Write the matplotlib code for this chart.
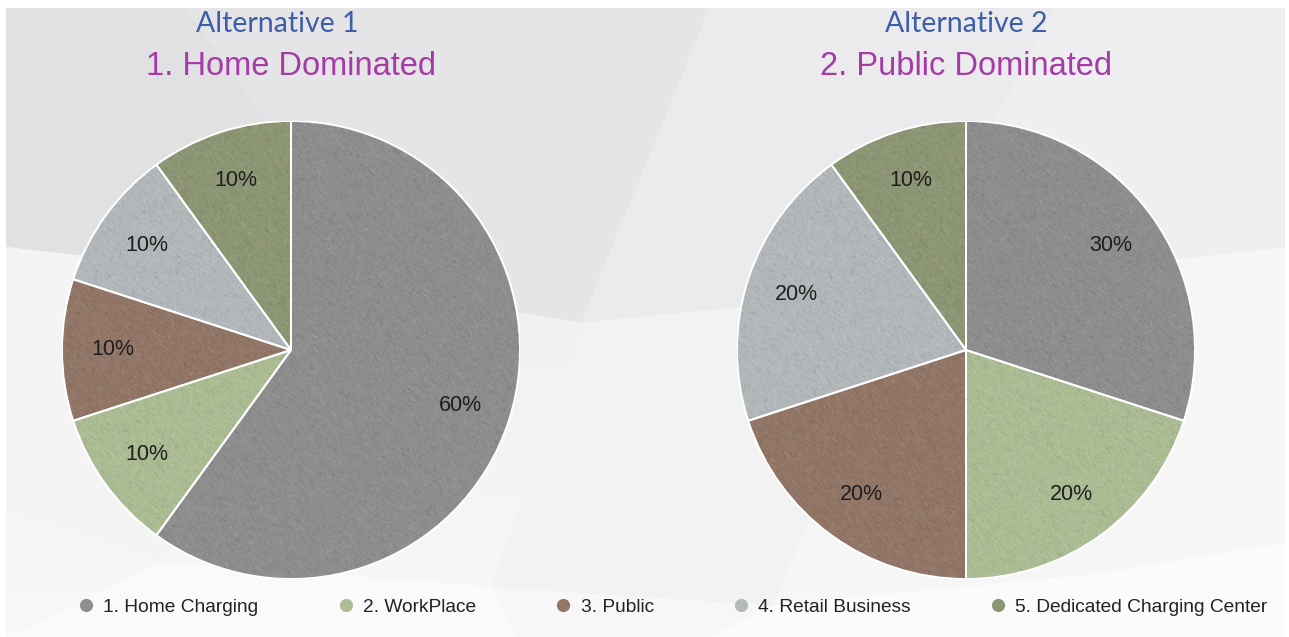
import numpy as np
import matplotlib.pyplot as plt
from matplotlib.colors import LinearSegmentedColormap
from matplotlib.patches import Polygon, Circle, Wedge
from matplotlib.lines import Line2D

categories = ['1. Home Charging', '2. WorkPlace', '3. Public',
              '4. Retail Business', '5. Dedicated Charging Center']
home_dominated = [60, 10, 10, 10, 10]
public_dominated = [30, 20, 20, 20, 10]
alt_titles = ['Alternative 1', 'Alternative 2']
sub_titles = ['1. Home Dominated', '2. Public Dominated']

colors = ['#8e8e8e', '#adbe94', '#927666', '#b4b9bc', '#8d9674']

W, H = 1289, 637
fig = plt.figure(figsize=(W / 100, H / 100), dpi=100)
fig.patch.set_facecolor('white')

# faint low-poly backdrop
bg = fig.add_axes([6 / W, 0, 1 - 10 / W, 1 - 8 / H])
bg.set_xlim(0, 1)
bg.set_ylim(0, 1)
bg.axis('off')
grad = np.linspace(0, 1, 256).reshape(-1, 1)
bg.imshow(grad, extent=(0, 1, 0, 1), aspect='auto', origin='lower',
          cmap=LinearSegmentedColormap.from_list(
              'bgfade', ['#f8f8f8', '#f1f1f2', '#e6e6e9']), zorder=0)
shapes = [
    ([(0, 1), (0.14, 1), (0.30, 0.55), (0, 0.62)], '#e1e1e4'),
    ([(0.14, 1), (0.55, 1), (0.45, 0.50), (0.30, 0.55)], '#e5e5e8'),
    ([(0.55, 1), (0.82, 1), (0.70, 0.55), (0.45, 0.50)], '#ebebee'),
    ([(0.82, 1), (1, 1), (1, 0.62), (0.70, 0.55)], '#efeff1'),
    ([(0, 0.62), (0.30, 0.55), (0.12, 0.12), (0, 0.20)], '#f4f4f5'),
    ([(0.45, 0.50), (0.70, 0.55), (0.60, 0.05), (0.38, 0.08)], '#f2f2f3'),
    ([(0.70, 0.55), (1, 0.62), (1, 0.15), (0.85, 0.10)], '#f6f6f7'),
    ([(0, 0), (0.12, 0.12), (0.38, 0.08), (0.40, 0)], '#fafafa'),
    ([(0.60, 0.05), (0.85, 0.10), (1, 0.15), (1, 0), (0.55, 0)], '#fbfbfb'),
]
for pts, c in shapes:
    bg.add_patch(Polygon(pts, closed=True, fc=c, ec='none', zorder=1))

# paper grain: light and dark specks that leave the base colour unchanged
rng = np.random.default_rng(7)
grain = rng.normal(size=(520, 520))
smooth = sum(np.roll(np.roll(grain, k, axis=0), k, axis=1) for k in range(-2, 3)) / 5
smooth = 0.5 * smooth + 0.5 * grain
smooth /= smooth.std()
grain_rgba = np.zeros(smooth.shape + (4,))
grain_rgba[..., :3] = (smooth > 0)[..., None].astype(float)
grain_rgba[..., 3] = np.clip(np.abs(smooth) * 0.06, 0, 0.2)


def draw_pie(cx, values, alt, sub, alt_shift):
    r = 229
    ax = fig.add_axes([(cx - r) / W, (H - 350 - r) / H, 2 * r / W, 2 * r / H])
    wedges, _, autotexts = ax.pie(
        values, colors=colors, startangle=90, counterclock=False, radius=1,
        autopct='%d%%', pctdistance=0.78,
        wedgeprops=dict(edgecolor='none'),
        textprops=dict(fontsize=15.5, color='#1e1e1e', family='Liberation Sans'))
    ax.set_xlim(-1, 1)
    ax.set_ylim(-1, 1)
    ax.axis('off')
    disc = Circle((0, 0), 1, transform=ax.transData)
    tex = ax.imshow(grain_rgba, extent=(-1, 1, -1, 1), zorder=2,
                    interpolation='bilinear')
    tex.set_clip_path(disc)
    for w in wedges:
        ax.add_patch(Wedge(w.center, w.r, w.theta1, w.theta2, fc='none',
                           ec='white', lw=1.4, zorder=3))
    for t in autotexts:
        t.set_zorder(4)
    fig.text((cx + alt_shift) / W, 1 - 32 / H, alt,
             ha='center', va='baseline', fontsize=20.5, color='#3d5ea8',
             family='Lato')
    fig.text(cx / W, 1 - 75 / H, sub, ha='center', va='baseline',
             fontsize=23.5, color='#a53ba6', family='Liberation Sans')


draw_pie(291, home_dominated, alt_titles[0], sub_titles[0], -14)
draw_pie(966, public_dominated, alt_titles[1], sub_titles[1], 0)

handles = [Line2D([], [], ls='none', marker='o', ms=9.5, mfc=c, mec='none')
           for c in colors]
fig.legend(handles, categories, loc='center', bbox_to_anchor=(673 / W, 1 - 607 / H),
           ncol=5, frameon=False, handlelength=0.8, handletextpad=0.5,
           columnspacing=4.15, prop=dict(family='Liberation Sans', size=13.8),
           labelcolor='#222222')

fig.savefig('out.png', dpi=100, facecolor=fig.get_facecolor())
